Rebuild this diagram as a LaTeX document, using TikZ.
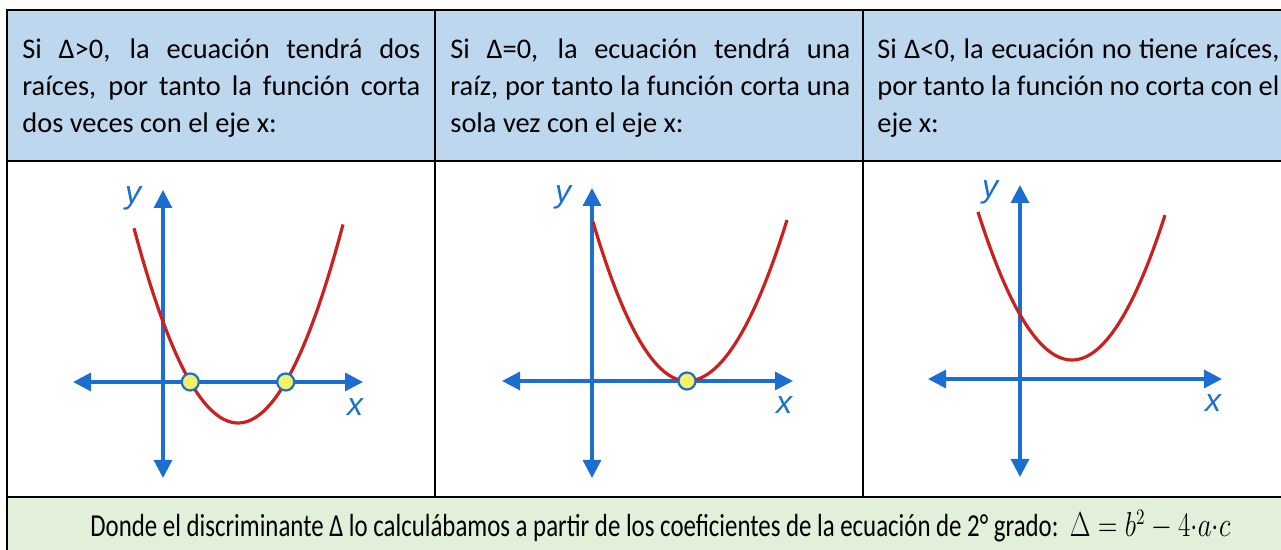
\documentclass[tikz,border=0pt]{standalone}
\usepackage{fontspec}
\usepackage{graphicx}
\setmainfont{Carlito}
\newfontfamily\axisfont{Liberation Sans}
\usetikzlibrary{arrows.meta}
\definecolor{hdrblue}{HTML}{BDD7EE}
\definecolor{ftgreen}{HTML}{E2EFD9}
\definecolor{axblue}{HTML}{1C6FD1}
\definecolor{curvered}{HTML}{CC1F1F}
\definecolor{rootyellow}{HTML}{F5F065}
\tikzset{
  grid line/.style={line width=1.3pt, black},
  axisline/.style={axblue, line width=1.6pt, {Triangle[length=9pt,width=9pt]}-{Triangle[length=9pt,width=9pt]}},
  curve/.style={curvered, line width=1.6pt},
  rootdot/.style={circle, draw=axblue, fill=rootyellow, line width=1.1pt, minimum size=8.5pt, inner sep=0pt},
  axlabel/.style={text=axblue, font=\axisfont\itshape\fontsize{16}{16}\selectfont, inner sep=0pt},
  hdrtext/.style={anchor=north west, inner sep=0pt, align=justify, font=\fontsize{14.2}{18.5}\selectfont},
}
\begin{document}
\begin{tikzpicture}[x=0.5pt,y=-0.5pt]
\useasboundingbox (0,0) rectangle (1281,550);
% fills
\fill[hdrblue] (7,10) rectangle (1290,161);
\fill[ftgreen] (7,497) rectangle (1290,560);
% grid
\draw[grid line] (1290,10) -- (7,10) -- (7,560);
\draw[grid line] (7,161) -- (1290,161);
\draw[grid line] (7,497) -- (1290,497);
\draw[grid line] (435,10) -- (435,497);
\draw[grid line] (863,10) -- (863,497);
% header texts
\node[hdrtext, text width=199pt] (h1) at (22,38) {Si Δ>0, la ecuación tendrá dos\linebreak raíces, por tanto la función corta\linebreak dos veces con el eje x:};
\node[hdrtext, text width=200pt] (h2) at (450,38) {Si Δ=0, la ecuación tendrá una\linebreak raíz, por tanto la función corta una\linebreak sola vez con el eje x:};
\node[hdrtext, text width=201pt] (h3) at (877,38) {Si Δ<0, la ecuación no tiene raíces,\linebreak por tanto la función no corta con el\linebreak eje x:};
% panel 1
\coordinate (y1t) at (163,190); \coordinate (y1b) at (163,478);
\coordinate (x1l) at (73,382); \coordinate (x1r) at (363,382);
\draw[axisline] (y1b) -- (y1t);
\draw[axisline] (x1l) -- (x1r);
\draw[curve] plot[domain=134:343, samples=80] (\x, {423-0.018*(\x-238)*(\x-238)});
\node[rootdot] (r1a) at (190.3,382) {};
\node[rootdot] (r1b) at (285.7,382) {};
\node[axlabel] (ly1) at (133,198) {y};
\node[axlabel] (lx1) at (355,407) {x};
% panel 2
\coordinate (y2t) at (592,188); \coordinate (y2b) at (592,478);
\coordinate (x2l) at (502,381); \coordinate (x2r) at (793,381);
\draw[axisline] (y2b) -- (y2t);
\draw[axisline] (x2l) -- (x2r);
\draw[curve] plot[domain=593:687, samples=50] (\x, {381-0.018*(\x-687)*(\x-687)})
  -- plot[domain=687:787, samples=50] (\x, {381-0.0161*(\x-687)*(\x-687)});
\node[rootdot] (r2) at (687,381) {};
\node[axlabel] (ly2) at (563,197) {y};
\node[axlabel] (lx2) at (784,405) {x};
% panel 3
\coordinate (y3t) at (1020,185); \coordinate (y3b) at (1020,477);
\coordinate (x3l) at (928,379); \coordinate (x3r) at (1222,379);
\draw[axisline] (y3b) -- (y3t);
\draw[axisline] (x3l) -- (x3r);
\draw[curve] plot[domain=978:1165, samples=80] (\x, {360-0.01675*(\x-1072)*(\x-1072)});
\node[axlabel] (ly3) at (990,192) {y};
\node[axlabel] (lx3) at (1213,403) {x};
% footer
\node[anchor=base west, inner sep=0pt, font=\fontsize{16}{17}\selectfont] (ft) at (90,537)
  {\resizebox{570pt}{\height}{Donde el discriminante Δ lo calculábamos a partir de los coeficientes de la ecuación de 2° grado:\ \ $\Delta = b^2 - 4{\cdot}a{\cdot}c$}};
\end{tikzpicture}
\end{document}
